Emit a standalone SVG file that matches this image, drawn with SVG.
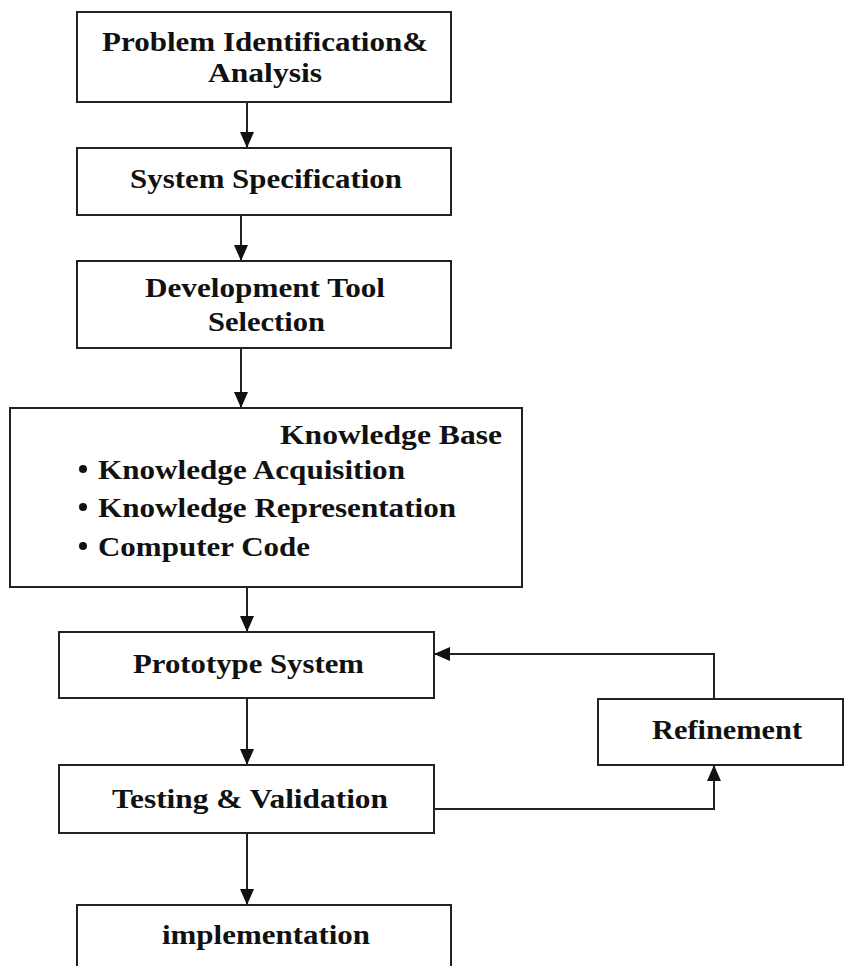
<svg xmlns="http://www.w3.org/2000/svg" width="845" height="966" viewBox="0 0 845 966">
  <defs>
    <marker id="arrow" viewBox="0 0 16 14" refX="16" refY="7" markerWidth="16" markerHeight="14" markerUnits="userSpaceOnUse" orient="auto">
      <path d="M0,0 L16,7 L0,14 Z" fill="#111"/>
    </marker>
  </defs>
  <style>
    .box { fill: #ffffff; stroke: #222; stroke-width: 2; }
    .lbl { font-family: "Liberation Serif", "Times New Roman", serif; font-weight: bold; font-size: 28px; fill: #111; }
    .edge { fill: none; stroke: #222; stroke-width: 2; }
    .dot { fill: #111; }
  </style>
  <rect width="845" height="966" fill="#ffffff"/>

  <!-- connectors -->
  <g id="connectors">
    <line class="edge" x1="247" y1="102" x2="247" y2="148" marker-end="url(#arrow)"/>
    <line class="edge" x1="241" y1="215" x2="241" y2="261" marker-end="url(#arrow)"/>
    <line class="edge" x1="241" y1="348" x2="241" y2="408" marker-end="url(#arrow)"/>
    <line class="edge" x1="247" y1="587" x2="247" y2="632" marker-end="url(#arrow)"/>
    <line class="edge" x1="247" y1="698" x2="247" y2="765" marker-end="url(#arrow)"/>
    <line class="edge" x1="247" y1="833" x2="247" y2="905" marker-end="url(#arrow)"/>
    <polyline class="edge" points="714,699 714,654 434,654" marker-end="url(#arrow)"/>
    <polyline class="edge" points="434,809 714,809 714,765" marker-end="url(#arrow)"/>
  </g>

  <g id="problem">
    <rect class="box" x="77" y="12" width="374" height="90"/>
    <text class="lbl" x="102" y="51" textLength="326" lengthAdjust="spacingAndGlyphs">Problem Identification&amp;</text>
    <text class="lbl" x="208" y="82" textLength="114" lengthAdjust="spacingAndGlyphs">Analysis</text>
  </g>

  <g id="specification">
    <rect class="box" x="77" y="148" width="374" height="67"/>
    <text class="lbl" x="130" y="188" textLength="272" lengthAdjust="spacingAndGlyphs">System Specification</text>
  </g>

  <g id="tool-selection">
    <rect class="box" x="77" y="261" width="374" height="87"/>
    <text class="lbl" x="145" y="297" textLength="240" lengthAdjust="spacingAndGlyphs">Development Tool</text>
    <text class="lbl" x="208" y="331" textLength="117" lengthAdjust="spacingAndGlyphs">Selection</text>
  </g>

  <g id="knowledge-base">
    <rect class="box" x="10" y="408" width="512" height="179"/>
    <text class="lbl" x="280" y="444" textLength="222" lengthAdjust="spacingAndGlyphs">Knowledge Base</text>
    <circle class="dot" cx="83" cy="469" r="4"/>
    <text class="lbl" x="98" y="479" textLength="307" lengthAdjust="spacingAndGlyphs">Knowledge Acquisition</text>
    <circle class="dot" cx="83" cy="507" r="4"/>
    <text class="lbl" x="98" y="517" textLength="358" lengthAdjust="spacingAndGlyphs">Knowledge Representation</text>
    <circle class="dot" cx="83" cy="546" r="4"/>
    <text class="lbl" x="98" y="556" textLength="212" lengthAdjust="spacingAndGlyphs">Computer Code</text>
  </g>

  <g id="prototype">
    <rect class="box" x="59" y="632" width="375" height="66"/>
    <text class="lbl" x="133" y="673" textLength="231" lengthAdjust="spacingAndGlyphs">Prototype System</text>
  </g>

  <g id="testing">
    <rect class="box" x="59" y="765" width="375" height="68"/>
    <text class="lbl" x="112" y="808" textLength="276" lengthAdjust="spacingAndGlyphs">Testing &amp; Validation</text>
  </g>

  <g id="refinement">
    <rect class="box" x="598" y="699" width="245" height="66"/>
    <text class="lbl" x="652" y="739" textLength="150" lengthAdjust="spacingAndGlyphs">Refinement</text>
  </g>

  <g id="implementation">
    <rect class="box" x="77" y="905" width="374" height="70"/>
    <text class="lbl" x="162" y="944" textLength="208" lengthAdjust="spacingAndGlyphs">implementation</text>
  </g>
</svg>
